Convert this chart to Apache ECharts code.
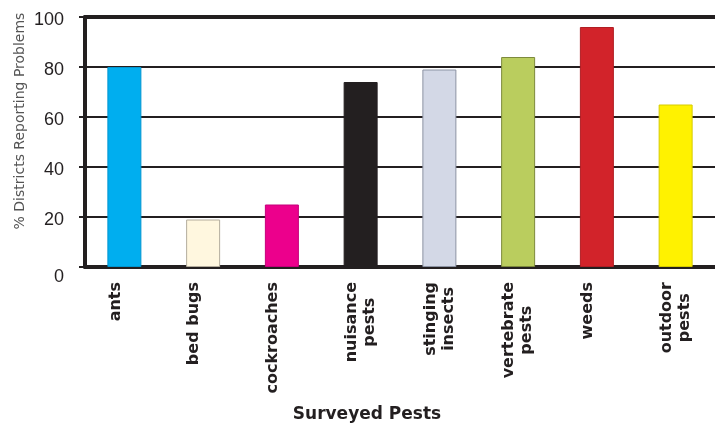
<!DOCTYPE html>
<html>
<head>
<meta charset="utf-8">
<script src="https://cdn.jsdelivr.net/npm/echarts@6/dist/echarts.min.js"></script>
<style>
  html, body { margin: 0; padding: 0; background: #fff; }
  #chart { width: 715px; height: 424px; }
</style>
</head>
<body>
<div id="chart"></div>
<script>
// Pest categories (two-line labels break with \n)
const pests = ['ants', 'bed bugs', 'cockroaches', 'nuisance\npests', 'stinging\ninsects', 'vertebrate\npests', 'weeds', 'outdoor\npests'];
// Share of districts reporting problems (%)
const percentReporting = [80, 19, 25, 74, 79, 84, 96, 65];
// Bar fill and outline colours, one per pest
const barColors = ['#00AEEF', '#FFF7DF', '#EC008C', '#231F20', '#D3D8E6', '#BACD5E', '#D2232A', '#FFF200'];
const barBorders = ['#0096D0', '#B3AC9C', '#C4007A', '#231F20', '#8C93A3', '#7D8A3C', '#B01E24', '#D6CB00'];
// Value axis ticks
const yTicks = [0, 20, 40, 60, 80, 100];

const ink = '#231F20';

const categoryData = pests.map(function (p) {
  const single = p.indexOf('\n') < 0;
  return single ? { value: p, textStyle: { verticalAlign: 'bottom' } } : { value: p };
});

const chart = echarts.init(document.getElementById('chart'), null, { renderer: 'canvas' });

chart.setOption({
  backgroundColor: '#ffffff',
  animation: false,
  grid: { left: 85, right: 0, top: 17, bottom: 157, containLabel: false, outerBoundsMode: 'none' },
  xAxis: [{
    type: 'category',
    data: categoryData,
    position: 'bottom',
    axisLine: { show: true, lineStyle: { color: ink, width: 4 } },
    axisTick: { show: false },
    axisLabel: {
      rotate: 90,
      interval: 0,
      margin: 15,
      formatter: function (v) {
        return v.split('\n').map(function (l) { return '{c|' + l + '}'; }).join('\n');
      },
      rich: {
        c: { align: 'center', fontFamily: 'DejaVu Sans', fontWeight: 'bold', fontSize: 16, lineHeight: 18, color: ink }
      }
    },
    splitLine: { show: false }
  }, {
    // top frame line at 100 %
    type: 'category',
    data: categoryData,
    position: 'top',
    axisLine: { show: true, lineStyle: { color: ink, width: 4 } },
    axisTick: { show: false },
    axisLabel: { show: false },
    splitLine: { show: false }
  }],
  yAxis: {
    type: 'value',
    min: yTicks[0],
    max: yTicks[yTicks.length - 1],
    interval: yTicks[1] - yTicks[0],
    axisLine: { show: true, lineStyle: { color: ink, width: 4 } },
    axisTick: { show: true, inside: false, length: 6, lineStyle: { color: ink, width: 2 } },
    axisLabel: {
      margin: 21,
      formatter: function (v) { return v === 0 ? '{z|0}' : '{n|' + v + '}'; },
      rich: {
        n: { fontFamily: 'Liberation Sans', fontSize: 18, color: ink, padding: [6, 0, 0, 0] },
        z: { fontFamily: 'Liberation Sans', fontSize: 18, color: ink, padding: [20, 0, 0, 0] }
      }
    },
    splitLine: { show: true, lineStyle: { color: ink, width: 2 } }
  },
  series: [{
    type: 'bar',
    xAxisIndex: 0,
    barWidth: 34,
    z: 3,
    data: percentReporting.map(function (v, i) {
      return { value: v, itemStyle: { color: barColors[i], borderColor: barBorders[i], borderWidth: 1 } };
    })
  }],
  graphic: [{
    type: 'text',
    x: 20,
    y: 121,
    rotation: Math.PI / 2,
    style: {
      text: '% Districts Reporting Problems',
      font: '14px "DejaVu Sans"',
      fill: '#555555',
      align: 'center',
      verticalAlign: 'middle',
      textAlign: 'center',
      textVerticalAlign: 'middle'
    }
  }, {
    type: 'text',
    x: 367,
    y: 415,
    style: {
      text: 'Surveyed Pests',
      font: 'bold 17px "DejaVu Sans"',
      fill: ink,
      align: 'center',
      verticalAlign: 'middle',
      textAlign: 'center',
      textVerticalAlign: 'middle'
    }
  }]
});
</script>
</body>
</html>
